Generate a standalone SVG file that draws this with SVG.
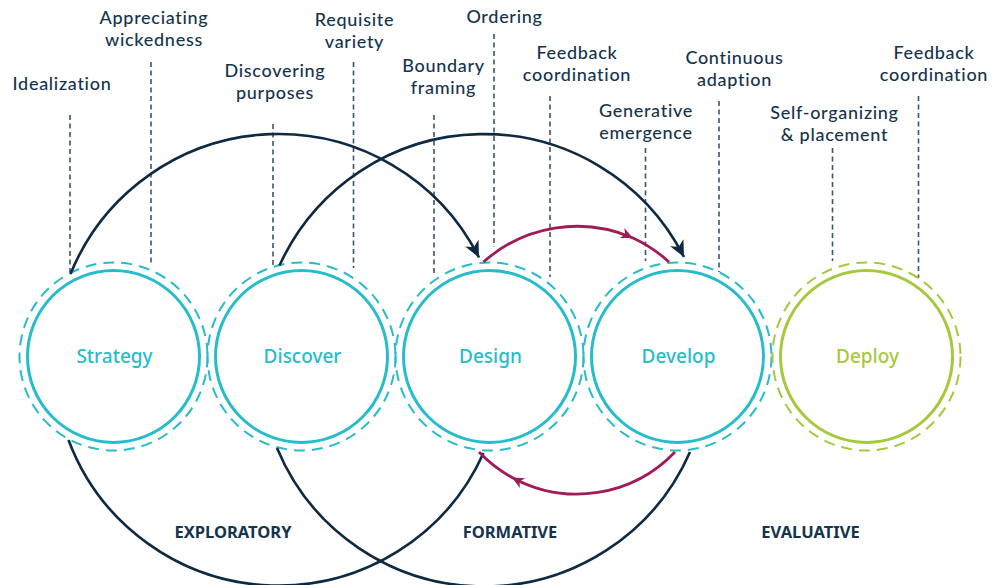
<svg xmlns="http://www.w3.org/2000/svg" width="995" height="585" viewBox="0 0 995 585">
<style>
.lbl{font-family:Lato,"Noto Sans",sans-serif;font-size:18px;fill:#15344d;text-anchor:middle;font-weight:500;letter-spacing:0.7px}
.cl{font-family:"Noto Sans","Open Sans",sans-serif;font-size:19px;text-anchor:middle;font-weight:500}
.ph{font-family:"Noto Sans","Open Sans",sans-serif;font-size:16.5px;fill:#15344d;text-anchor:middle;font-weight:700}
.ring{fill:none;stroke-width:3}
.dring{fill:none;stroke-width:2;stroke-dasharray:11 7}
.teal{stroke:#27bccb}
.green{stroke:#a5c93d}
.vd{stroke:#3e5569;stroke-width:1.6;stroke-dasharray:5 3.5;fill:none}
.arc{fill:none;stroke:#0e2a42;stroke-width:2.6}
.marc{fill:none;stroke:#a01b58;stroke-width:2.8}
</style>
<defs>
<marker id="ah" markerUnits="userSpaceOnUse" viewBox="-17 -9 18 18" refX="0" refY="0" markerWidth="18" markerHeight="18" orient="auto">
<path d="M0,0 L-16,-7.5 L-11.5,0 L-16,7.5 Z" fill="#0e2a42"/>
</marker>
<marker id="mh" markerUnits="userSpaceOnUse" viewBox="-13 -7 14 14" refX="0" refY="0" markerWidth="14" markerHeight="14" orient="auto">
<path d="M0,0 L-12,-5.5 L-8.5,0 L-12,5.5 Z" fill="#a01b58"/>
</marker>
</defs>

<g id="guides">
<line class="vd" x1="70" y1="115" x2="70" y2="272"/>
<line class="vd" x1="151" y1="62" x2="151" y2="263"/>
<line class="vd" x1="273" y1="124" x2="273" y2="266"/>
<line class="vd" x1="353.5" y1="62" x2="353.5" y2="268"/>
<line class="vd" x1="434" y1="115" x2="434" y2="273"/>
<line class="vd" x1="494" y1="34" x2="494" y2="247"/>
<line class="vd" x1="550" y1="96" x2="550" y2="277"/>
<line class="vd" x1="645.5" y1="148" x2="645.5" y2="261"/>
<line class="vd" x1="719" y1="101" x2="719" y2="272"/>
<line class="vd" x1="832.5" y1="148" x2="832.5" y2="261"/>
<line class="vd" x1="918.5" y1="96" x2="918.5" y2="278"/>
</g>

<g id="labels">
<text class="lbl" x="62" y="90">Idealization</text>
<text class="lbl" x="154" y="24">Appreciating</text>
<text class="lbl" x="154" y="46">wickedness</text>
<text class="lbl" x="275" y="77">Discovering</text>
<text class="lbl" x="275" y="99">purposes</text>
<text class="lbl" x="354.5" y="26">Requisite</text>
<text class="lbl" x="354.5" y="48">variety</text>
<text class="lbl" x="443.5" y="72">Boundary</text>
<text class="lbl" x="443.5" y="94">framing</text>
<text class="lbl" x="504.5" y="23">Ordering</text>
<text class="lbl" x="577" y="59">Feedback</text>
<text class="lbl" x="577" y="81">coordination</text>
<text class="lbl" x="646" y="117">Generative</text>
<text class="lbl" x="646" y="139">emergence</text>
<text class="lbl" x="734.5" y="64">Continuous</text>
<text class="lbl" x="734.5" y="86">adaption</text>
<text class="lbl" x="834.5" y="119">Self-organizing</text>
<text class="lbl" x="834.5" y="141">&amp; placement</text>
<text class="lbl" x="934" y="59">Feedback</text>
<text class="lbl" x="934" y="81">coordination</text>
</g>

<g id="node-strategy">
<circle class="dring teal" cx="113.5" cy="356.5" r="94"/>
<circle class="ring teal" cx="113.5" cy="356.5" r="86"/>
<text class="cl" x="114.5" y="363" fill="#27bccb">Strategy</text>
</g>
<g id="node-discover">
<circle class="dring teal" cx="301.5" cy="356.5" r="94"/>
<circle class="ring teal" cx="301.5" cy="356.5" r="86"/>
<text class="cl" x="302.5" y="363" fill="#27bccb">Discover</text>
</g>
<g id="node-design">
<circle class="dring teal" cx="489.5" cy="356.5" r="94"/>
<circle class="ring teal" cx="489.5" cy="356.5" r="86"/>
<text class="cl" x="490.5" y="363" fill="#27bccb">Design</text>
</g>
<g id="node-develop">
<circle class="dring teal" cx="677.5" cy="356.5" r="94"/>
<circle class="ring teal" cx="677.5" cy="356.5" r="86"/>
<text class="cl" x="678.5" y="363" fill="#27bccb">Develop</text>
</g>
<g id="node-deploy">
<circle class="dring green" cx="866.5" cy="356.5" r="94"/>
<circle class="ring green" cx="866.5" cy="356.5" r="86"/>
<text class="cl" x="867.5" y="363" fill="#a5c93d">Deploy</text>
</g>

<g id="connectors">
<path class="arc" d="M70.5,274 A224.5,224.5 0 0 1 479,257.5" marker-end="url(#ah)"/>
<path class="arc" d="M68.5,440 A224.5,224.5 0 0 0 483.5,453"/>
<path class="arc" d="M279.5,265.5 A224.5,224.5 0 0 1 684,257" marker-end="url(#ah)"/>
<path class="arc" d="M277,448 A224.5,224.5 0 0 0 690,452"/>
<path class="marc" d="M483.5,262 A140.3,140.3 0 0 1 633,238 A140.3,140.3 0 0 1 669,262" marker-mid="url(#mh)"/>
<path class="marc" d="M675,452 A135.3,135.3 0 0 1 512,477.4 A135.3,135.3 0 0 1 479,452" marker-mid="url(#mh)"/>
</g>

<g id="phases">
<text class="ph" x="233" y="538">EXPLORATORY</text>
<text class="ph" x="510" y="538">FORMATIVE</text>
<text class="ph" x="810.5" y="538">EVALUATIVE</text>
</g>
</svg>
